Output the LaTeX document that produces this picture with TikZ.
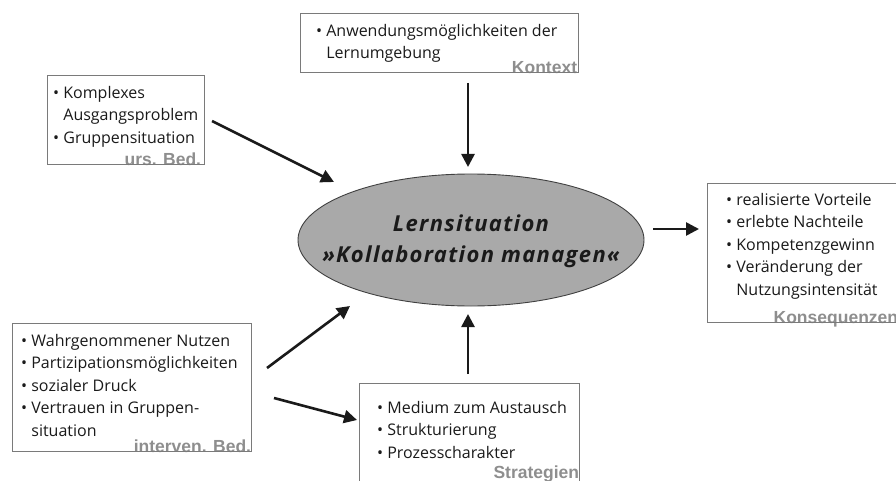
\documentclass[tikz,border=0pt]{standalone}
\usepackage{fontspec}
\setmainfont{Open Sans}
\newfontfamily\tagfont{Liberation Sans}
\newfontfamily\lernfont[LetterSpace=6]{Open Sans}
\usetikzlibrary{arrows.meta,shapes.geometric,backgrounds}
\definecolor{boxgray}{HTML}{7A7A7A}
\definecolor{taggray}{HTML}{8E8E8E}
\definecolor{ellfill}{HTML}{A9A9A9}
\definecolor{ink}{HTML}{1A1A1A}
\newcommand{\itm}{\rule{0pt}{12.5pt}\textbullet\ }
\newcommand{\cnt}{\phantom{\textbullet\ }}
\tikzset{
  frame/.style={draw=boxgray, line width=1.3pt, anchor=north west, inner sep=0pt},
  items/.style={anchor=north west, align=left, inner sep=0pt, text=ink,
    font=\fontsize{16}{22.5}\selectfont},
  tag/.style={anchor=base east, inner sep=0pt, text=taggray,
    font=\tagfont\bfseries\fontsize{17.5}{20}\selectfont},
  flow/.style={draw=ink, line width=2.6pt, -{Triangle[length=13pt,width=13pt]}},
}
\begin{document}
\begin{tikzpicture}[x=1pt,y=-1pt]
\useasboundingbox (0,0) rectangle (896,481);

% Lernsituation in the middle
\node[ellipse, draw=black!75, line width=0.9pt, fill=ellfill, minimum width=346pt,
  minimum height=132pt, inner sep=0pt] (lern) at (471,240) {};
\node[align=center, inner sep=0pt, text=ink,
  font=\lernfont\bfseries\itshape\fontsize{22}{31}\selectfont] (lernText) at ([yshift=-1]lern.center)
  {Lernsituation\\»Kollaboration managen«};

% Kontext
\node[frame, minimum width=278pt, minimum height=59pt] (kontext) at (300,13) {};
\node[items] (kontextText) at (316,23.5) {\itm Anwendungsmöglichkeiten der\\\cnt Lernumgebung};

% ursaechliche Bedingungen
\node[frame, minimum width=157pt, minimum height=89pt] (urs) at (47,75) {};
\node[items] (ursText) at (53,85.5) {\itm Komplexes\\\cnt Ausgangsproblem\\\itm Gruppensituation};

% Konsequenzen
\node[frame, minimum width=198pt, minimum height=139pt] (kons) at (707,183) {};
\node[items] (konsText) at (726,192.5) {\itm realisierte Vorteile\\\itm erlebte Nachteile\\
  \itm Kompetenzgewinn\\\itm Veränderung der\\\cnt Nutzungsintensität};

% intervenierende Bedingungen
\node[frame, minimum width=239pt, minimum height=128pt] (interv) at (12,323) {};
\node[items] (intervText) at (21,333.5) {\itm Wahrgenommener Nutzen\\\itm Partizipationsmöglichkeiten\\
  \itm sozialer Druck\\\itm Vertrauen in Gruppen-\\\cnt situation};

% Strategien
\node[frame, minimum width=220pt, minimum height=100pt] (strat) at (359,383) {};
\node[items] (stratText) at (377,400.5) {\itm Medium zum Austausch\\\itm Strukturierung\\\itm Prozesscharakter};

% box tags, partly hidden by the frames
\begin{scope}[on background layer]
\node[tag] (kontextTag) at ([shift={(-2,0.5)}]kontext.south east) {Kontext};
\node[tag] (ursTag) at ([shift={(-4,0.5)}]urs.south east) {urs. Bed.};
\node[tag] (konsTag) at ([shift={(-8,0.5)}]kons.south east) {Konsequenzen};
\node[tag] (intervTag) at ([shift={(-1,0.5)}]interv.south east) {interven. Bed.};
\node[tag] (stratTag) at ([shift={(-1,-6)}]strat.south east) {Strategien};
\end{scope}

% arrow ends
\coordinate (ursOut) at (212,121);     \coordinate (ursIn) at (334,182);
\coordinate (kontextOut) at (468,83);  \coordinate (kontextIn) at (468,167);
\coordinate (lernOut) at (653,229);    \coordinate (konsIn) at (699,229);
\coordinate (intervOut) at (267,368);  \coordinate (intervIn) at (350,306);
\coordinate (intervOutB) at (274,398); \coordinate (stratIn) at (357,420);
\coordinate (stratOut) at (468,374);   \coordinate (stratUp) at (468,314);

% arrows
\draw[flow] (ursOut) -- (ursIn);
\draw[flow] (kontextOut) -- (kontextIn);
\draw[flow] (lernOut) -- (konsIn);
\draw[flow] (intervOut) -- (intervIn);
\draw[flow] (intervOutB) -- (stratIn);
\draw[flow] (stratOut) -- (stratUp);
\end{tikzpicture}
\end{document}
